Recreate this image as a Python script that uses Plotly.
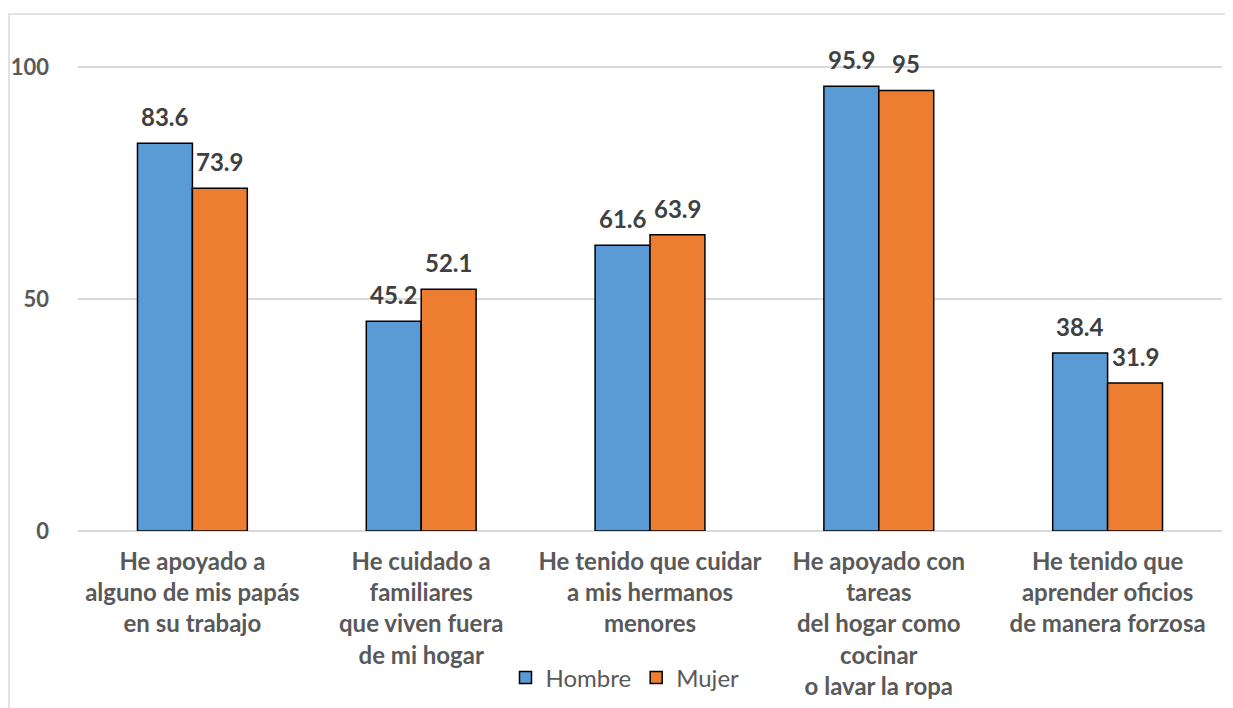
import plotly.graph_objects as go

categories = [
    "He apoyado a<br>alguno de mis papás<br>en su trabajo",
    "He cuidado a<br>familiares<br>que viven fuera<br>de mi hogar",
    "He tenido que cuidar<br>a mis hermanos<br>menores",
    "He apoyado con<br>tareas<br>del hogar como<br>cocinar<br>o lavar la ropa",
    "He tenido que<br>aprender oficios<br>de manera forzosa",
]
hombre = [83.6, 45.2, 61.6, 95.9, 38.4]
mujer = [73.9, 52.1, 63.9, 95.0, 31.9]
hombre_labels = ["83.6", "45.2", "61.6", "95.9", "38.4"]
mujer_labels = ["73.9", "52.1", "63.9", "95", "31.9"]
y_ticks = [0, 50, 100]

BLUE = "#5B9BD5"
ORANGE = "#ED7D31"
AXIS_TXT = "#595959"
LBL_TXT = "#404040"
FONT = "Lato"

cat_idx = list(range(len(categories)))

fig = go.Figure()
fig.add_trace(go.Bar(name="Hombre", x=cat_idx, y=hombre,
                     marker=dict(color=BLUE, line=dict(color="#000000", width=1.5))))
fig.add_trace(go.Bar(name="Mujer", x=cat_idx, y=mujer,
                     marker=dict(color=ORANGE, line=dict(color="#000000", width=1.5))))

# page body has an 8px margin, so the figure is offset by (8, 8)
OFF = 8
L, R, T, B = 78 - OFF, 11, 44 - OFF, 177
W, H = 1233 - OFF, 708 - OFF
plot_w = W - L - R
plot_h = H - T - B
bar_px = plot_w / len(categories) * 0.48 / 2

annotations = []
for i in cat_idx:
    for vals, labs, sgn in ((hombre, hombre_labels, -1), (mujer, mujer_labels, 1)):
        annotations.append(dict(
            x=i, y=vals[i], xref="x", yref="y", text=labs[i], showarrow=False,
            xanchor="center", yanchor="bottom", xshift=sgn * bar_px / 2, yshift=10,
            font=dict(family=FONT, size=24, color=LBL_TXT, weight="bold"),
        ))

# outer chart frame (left and top edges), in page pixels
left_px, top_px = 9 - OFF, 14 - OFF
x0 = (left_px - L) / plot_w
ytop = (H - B - top_px) / plot_h
shapes = [dict(type="path", xref="paper", yref="paper",
               path=f"M {x0} -0.5 L {x0} {ytop} L 1.1 {ytop}",
               line=dict(color="#D9D9D9", width=1.5))]

fig.update_layout(
    width=W, height=H,
    margin=dict(l=L, r=R, t=T, b=B, autoexpand=False),
    paper_bgcolor="white", plot_bgcolor="white",
    barmode="group", bargap=0.52, bargroupgap=0,
    font=dict(family=FONT, color=AXIS_TXT),
    showlegend=True,
    legend=dict(orientation="h", x=(625 - 78) / plot_w, xanchor="center",
                y=(H - B - (678 - OFF)) / plot_h, yanchor="middle",
                font=dict(family=FONT, size=24, color=AXIS_TXT),
                bgcolor="rgba(0,0,0,0)"),
    annotations=annotations,
    shapes=shapes,
)
fig.update_xaxes(tickmode="array", tickvals=cat_idx, ticktext=categories,
                 tickfont=dict(family=FONT, size=24, color=AXIS_TXT, weight="bold"),
                 showgrid=False, zeroline=False, showline=False, ticks="",
                 ticklabelstandoff=14, automargin=False,
                 range=[-0.5, len(categories) - 0.5], fixedrange=True)
fig.update_yaxes(range=[0, 105], tickmode="array", tickvals=y_ticks,
                 ticktext=[str(v) for v in y_ticks],
                 tickfont=dict(family=FONT, size=22, color=AXIS_TXT, weight="bold"),
                 showgrid=True, gridcolor="#D9D9D9", gridwidth=1.5,
                 zeroline=True, zerolinecolor="#D9D9D9", zerolinewidth=1.5,
                 showline=False, ticks="", ticklabelstandoff=28, automargin=False)

fig.write_html("out.html")
